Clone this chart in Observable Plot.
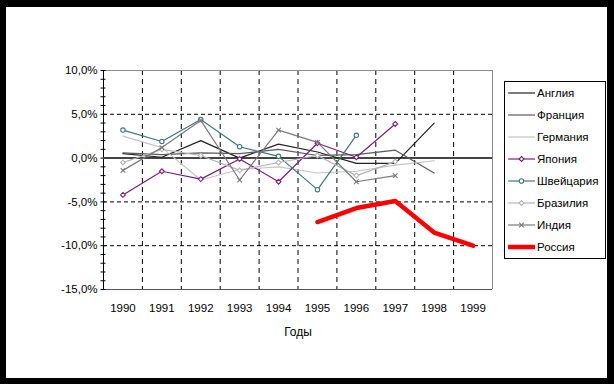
<!DOCTYPE html>
<html><head><meta charset="utf-8">
<script src="https://cdn.jsdelivr.net/npm/d3@7"></script>
<script src="https://cdn.jsdelivr.net/npm/@observablehq/plot@0.6"></script>
<style>
body{margin:0;background:#000;}
#wrap{position:relative;width:614px;height:384px;background:#000;overflow:hidden;}
#paper{position:absolute;left:6px;top:7px;width:601px;height:371px;background:#fff;}
#chart{position:absolute;left:0;top:0;}
</style></head><body>
<div id="wrap"><div id="paper"></div><div id="chart"></div></div>
<script>
const years = [1990, 1991, 1992, 1993, 1994, 1995, 1996, 1997, 1998, 1999];
const england     = [0.5, 0.1, 2.0, 0.0, 1.6, 0.7, -0.6, -0.6, 4.0, null];
const france      = [0.6, 0.4, 0.6, 0.5, 1.0, 0.3, 0.4, 0.9, -1.7, null];
const germany     = [2.5, 1.2, -2.5, -1.3, -1.0, -1.7, -1.5, -0.8, -0.3, null];
const japan       = [-4.2, -1.5, -2.4, -0.1, -2.7, 1.7, 0.1, 3.9, null, null];
const switzerland = [3.2, 1.9, 4.4, 1.3, 0.2, -3.6, 2.6, null, null, null];
const brazil      = [-0.5, 1.0, 0.3, -1.4, -0.5, 0.3, -2.0, -0.4, null, null];
const india       = [-1.4, 1.2, 4.3, -2.5, 3.2, 1.8, -2.7, -2.0, null, null];
const russia      = [null, null, null, null, null, -7.3, -5.7, -4.9, -8.5, -10.0];
const seriesNames = ["Англия", "Франция", "Германия", "Япония", "Швейцария", "Бразилия", "Индия", "Россия"];
const yTicks = [-15, -10, -5, 0, 5, 10];
const xTitle = "Годы";

const seriesValues = [england, france, germany, japan, switzerland, brazil, india, russia];
const styles = [
  {stroke: "#222222", width: 1.2, symbol: null},
  {stroke: "#5a5a5a", width: 1.2, symbol: null},
  {stroke: "#c4c4c4", width: 1.2, symbol: null},
  {stroke: "#7a1f7a", width: 1.2, symbol: "diamond2"},
  {stroke: "#3f7878", width: 1.2, symbol: "circle"},
  {stroke: "#b4b4b4", width: 1.2, symbol: "diamond2"},
  {stroke: "#7a7a7a", width: 1.2, symbol: "times"},
  {stroke: "#ff0000", width: 4.5, symbol: null}
];

const series = seriesNames.map((name, i) => ({
  name, style: styles[i],
  rows: years.map((year, j) => ({year, value: seriesValues[i][j]})).filter(d => d.value != null)
}));

const fmtPct = d => d.toFixed(1).replace(".", ",") + "%";
const x0 = years[0] - 0.5, x1 = years[years.length - 1] + 0.5;
const bounds = years.slice(0, -1).map(y => y + 0.5);

const marks = [
  Plot.ruleY([5, -5, -10], {stroke: "#000", strokeDasharray: "4,3"}),
  Plot.ruleX(bounds, {stroke: "#000", strokeDasharray: "5,4"}),
  Plot.ruleY([10], {stroke: "#8a8a8a"}),
  Plot.ruleX([x1], {stroke: "#8a8a8a"}),
  Plot.ruleY([-15], {stroke: "#555"}),
  Plot.ruleX([x0], {stroke: "#000"}),
  Plot.axisY({ticks: d3.range(-15, 11), tickSize: 5, dx: 2.5, tickFormat: () => "", label: null, stroke: "#000"}),
  Plot.axisY({ticks: yTicks, tickSize: 0, tickPadding: 6, tickFormat: fmtPct, label: null, fill: "#000"}),
  Plot.axisX({ticks: years, tickSize: 0, tickPadding: 14, tickFormat: d => String(d), label: null, fill: "#000"}),
  Plot.text([xTitle], {frameAnchor: "bottom", dy: 43, lineAnchor: "middle", fill: "#000", fontSize: 12}),
  Plot.ruleY([0], {stroke: "#444", strokeWidth: 2})
];
for (const s of series) {
  marks.push(Plot.line(s.rows, {x: "year", y: "value", stroke: s.style.stroke, strokeWidth: s.style.width}));
  if (s.style.symbol) {
    marks.push(Plot.dot(s.rows, {x: "year", y: "value", symbol: s.style.symbol, r: 2.2, stroke: s.style.stroke, strokeWidth: 1.1, fill: s.style.symbol === "times" ? "none" : "#fff"}));
  }
}

const chart = Plot.plot({
  width: 614, height: 384,
  marginLeft: 103, marginRight: 122, marginTop: 70, marginBottom: 95,
  style: {background: "transparent", fontFamily: "'Liberation Sans', Arial, sans-serif", fontSize: "11.5px", color: "#000"},
  x: {type: "linear", domain: [x0, x1], axis: null, label: null},
  y: {domain: [-15, 10], axis: null, label: null},
  marks
});

// legend
const svg = d3.select(chart);
const lg = svg.append("g").attr("font-family", "'Liberation Sans', Arial, sans-serif").attr("font-size", "11.5px").attr("text-anchor", "start");
lg.append("rect").attr("x", 504.5).attr("y", 81.5).attr("width", 101).attr("height", 177).attr("fill", "#fff").attr("stroke", "#000");
series.forEach((s, i) => {
  const y = 93 + i * 22;
  const g = lg.append("g");
  g.append("line").attr("x1", 508).attr("x2", 535).attr("y1", y).attr("y2", y)
    .attr("stroke", s.style.stroke).attr("stroke-width", s.style.width);
  if (s.style.symbol) {
    const sym = {circle: d3.symbolCircle, diamond2: d3.symbolDiamond2, times: d3.symbolTimes}[s.style.symbol];
    g.append("path").attr("d", d3.symbol(sym, 16)()).attr("transform", `translate(521.5,${y})`)
      .attr("stroke", s.style.stroke).attr("stroke-width", 1.1).attr("fill", s.style.symbol === "times" ? "none" : "#fff");
  }
  g.append("text").attr("x", 537).attr("y", y).attr("dy", "0.35em").attr("text-anchor", "start").attr("fill", "#000").text(s.name);
});

document.getElementById("chart").appendChild(chart);
</script>
</body></html>
